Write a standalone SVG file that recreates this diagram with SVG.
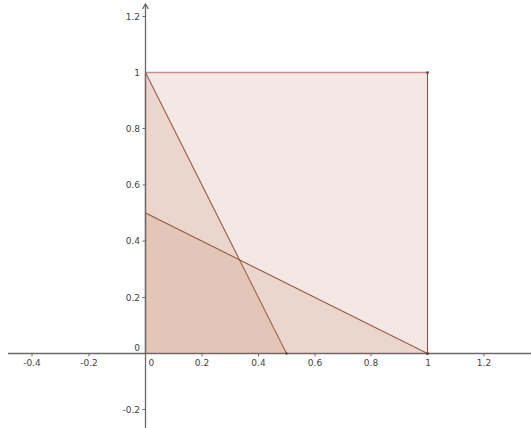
<svg xmlns="http://www.w3.org/2000/svg" width="531" height="428" viewBox="0 0 531 428">
<style>
.lbl{font-family:"DejaVu Sans","Liberation Sans",sans-serif;font-size:9px;fill:#444}
.xl{text-anchor:middle}
.yl{text-anchor:end}
.axis{stroke:#6a6a6a;stroke-width:1.3;fill:none}
.tick{stroke:#6a6a6a;stroke-width:1}
.tri{fill:rgb(200,140,110);fill-opacity:0.2;stroke:#8f5e4a;stroke-width:1.1}
.pt{fill:#5a4038}
</style>
<rect width="531" height="428" fill="#ffffff"/>
<g id="square">
<rect x="145.5" y="72.5" width="282" height="281" fill="#f5e8e4"/>
<polyline points="145.5,353.5 145.5,72.5 427.5,72.5" fill="none" stroke="#d88a8a" stroke-width="1.3"/>
<line x1="427.5" y1="72.5" x2="427.5" y2="353.5" stroke="#7a5a50" stroke-width="1.1"/>
</g>
<g id="triangle1">
<polygon class="tri" points="145.5,353.5 145.5,72.5 286.5,353.5"/>
</g>
<g id="triangle2">
<polygon class="tri" points="145.5,353.5 145.5,213 427.5,353.5"/>
</g>
<g id="axes">
<line class="axis" x1="8" y1="353.5" x2="531" y2="353.5"/>
<line class="axis" x1="145.5" y1="428" x2="145.5" y2="4"/>
<polyline class="axis" points="142.5,9 145.5,4 148.5,9"/>
<g class="tick">
<line x1="32" y1="353.5" x2="32" y2="356.5"/>
<line x1="89" y1="353.5" x2="89" y2="356.5"/>
<line x1="202" y1="353.5" x2="202" y2="356.5"/>
<line x1="258.5" y1="353.5" x2="258.5" y2="356.5"/>
<line x1="315" y1="353.5" x2="315" y2="356.5"/>
<line x1="371" y1="353.5" x2="371" y2="356.5"/>
<line x1="484" y1="353.5" x2="484" y2="356.5"/>
<line x1="142.5" y1="16.5" x2="145.5" y2="16.5"/>
<line x1="142.5" y1="128.5" x2="145.5" y2="128.5"/>
<line x1="142.5" y1="185" x2="145.5" y2="185"/>
<line x1="142.5" y1="241" x2="145.5" y2="241"/>
<line x1="142.5" y1="297.5" x2="145.5" y2="297.5"/>
<line x1="142.5" y1="409.5" x2="145.5" y2="409.5"/>
</g>
</g>
<g id="labels">
<text class="lbl xl" x="32" y="366">-0.4</text>
<text class="lbl xl" x="89" y="366">-0.2</text>
<text class="lbl" x="148.5" y="366">0</text>
<text class="lbl xl" x="202" y="366">0.2</text>
<text class="lbl xl" x="258.5" y="366">0.4</text>
<text class="lbl xl" x="315" y="366">0.6</text>
<text class="lbl xl" x="371" y="366">0.8</text>
<text class="lbl xl" x="428" y="366">1</text>
<text class="lbl xl" x="484" y="366">1.2</text>
<text class="lbl yl" x="140" y="20">1.2</text>
<text class="lbl yl" x="140" y="76">1</text>
<text class="lbl yl" x="140" y="132">0.8</text>
<text class="lbl yl" x="140" y="188">0.6</text>
<text class="lbl yl" x="140" y="244">0.4</text>
<text class="lbl yl" x="140" y="301">0.2</text>
<text class="lbl yl" x="140" y="351">0</text>
<text class="lbl yl" x="140" y="413">-0.2</text>
</g>
<g id="points">
<circle class="pt" cx="427.5" cy="72.5" r="1.3"/>
<circle class="pt" cx="427.5" cy="353.5" r="1.5"/>
<circle class="pt" cx="286.5" cy="353.5" r="1.2"/>
</g>
</svg>
